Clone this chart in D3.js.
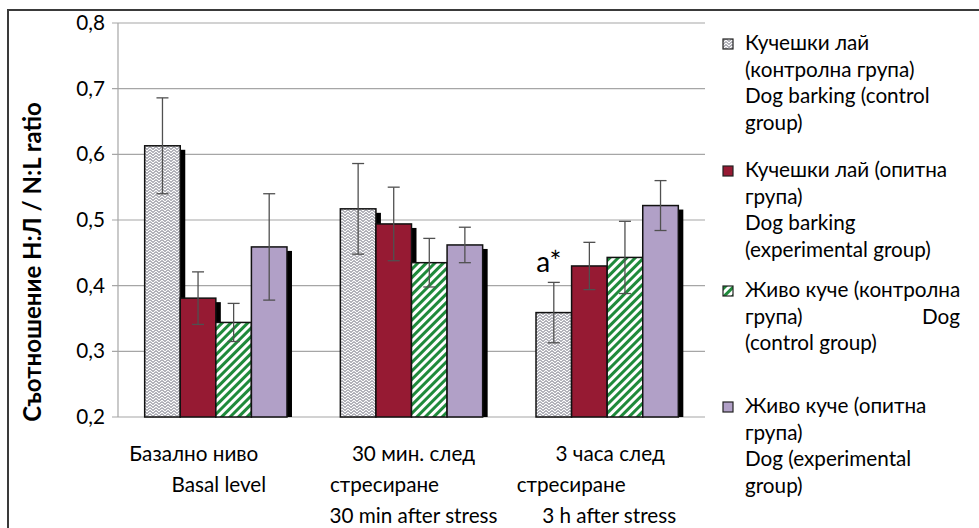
<!DOCTYPE html>
<html>
<head>
<meta charset="utf-8">
<script src="https://cdn.jsdelivr.net/npm/d3@7"></script>
<style>
  body { margin: 0; background: #fff; }
  svg { display: block; font-family: Lato, "Noto Sans", sans-serif; }
</style>
</head>
<body>
<svg id="chart" width="979" height="528"></svg>
<script>
// ---- data ----
const categoryLines = [
  ["Базално ниво", "Basal level"],
  ["30 мин. след", "стресиране", "30 min after stress"],
  ["3 часа след", "стресиране", "3 h after stress"]
];
const seriesKeys = ["barkCtrl", "barkExp", "liveCtrl", "liveExp"];
const legendLines = [
  ["Кучешки лай", "(контролна група)", "Dog barking (control", "group)"],
  ["Кучешки лай (опитна", "група)", "Dog barking", "(experimental group)"],
  ["Живо куче (контролна", ["група)", "Dog"], "(control group)"],
  ["Живо куче (опитна", "група)", "Dog (experimental", "group)"]
];
const barkCtrl = [0.613, 0.517, 0.359];
const barkExp  = [0.381, 0.494, 0.430];
const liveCtrl = [0.344, 0.435, 0.443];
const liveExp  = [0.459, 0.462, 0.522];
const barkCtrlErr = [0.073, 0.069, 0.046];
const barkExpErr  = [0.040, 0.056, 0.036];
const liveCtrlErr = [0.029, 0.037, 0.055];
const liveExpErr  = [0.081, 0.027, 0.038];
const yTicks = [0.2, 0.3, 0.4, 0.5, 0.6, 0.7, 0.8];
const annotation = { category: 2, series: 0, text: "a*" };

const valueTable = { barkCtrl, barkExp, liveCtrl, liveExp };
const errTable = { barkCtrl: barkCtrlErr, barkExp: barkExpErr, liveCtrl: liveCtrlErr, liveExp: liveExpErr };

// ---- layout ----
const svg = d3.select("#chart");
const plot = { left: 118, right: 705, top: 23, bottom: 417 };
const FS = 20.7;

const x0 = d3.scaleBand().domain(d3.range(categoryLines.length)).range([plot.left, plot.right]);
// Excel-like gap width of 150% of one bar
const barW = x0.bandwidth() / 5.5;
const x1 = d3.scaleBand().domain(seriesKeys)
  .range([barW * 0.75, x0.bandwidth() - barW * 0.75]);
const y = d3.scaleLinear().domain([0.2, 0.8]).range([plot.bottom, plot.top]);

// ---- fills ----
const defs = svg.append("defs");
// grey zig-zag weave
const zig = defs.append("pattern").attr("id", "zigzag").attr("patternUnits", "userSpaceOnUse")
  .attr("width", 6).attr("height", 6);
zig.append("rect").attr("width", 6).attr("height", 6).attr("fill", "#b0b0b8");
zig.append("path").attr("d", "M0,1 L3,4 L6,1 M0,-2 L3,1 L6,-2 M0,4 L3,7 L6,4")
  .attr("fill", "none").attr("stroke", "#ffffff").attr("stroke-width", 1.1);
zig.append("path").attr("d", "M0,2.5 L3,5.5 L6,2.5 M0,-0.5 L3,2.5 L6,-0.5")
  .attr("fill", "none").attr("stroke", "#8a8a94").attr("stroke-width", 0.7);

// green / white diagonal stripes
const stripes = defs.append("pattern").attr("id", "stripes").attr("patternUnits", "userSpaceOnUse")
  .attr("width", 6).attr("height", 6).attr("patternTransform", "rotate(45)");
stripes.append("rect").attr("width", 6).attr("height", 6).attr("fill", "#ffffff");
stripes.append("rect").attr("width", 3).attr("height", 6).attr("fill", "#1f8a3b");

const fills = { barkCtrl: "url(#zigzag)", barkExp: "#961a33", liveCtrl: "url(#stripes)", liveExp: "#b1a0c7" };

// ---- outer frame (top and left edges fall inside the view) ----
svg.append("path").attr("d", "M8,528 L8,10 L979,10")
  .attr("fill", "none").attr("stroke", "#3a3a3a").attr("stroke-width", 2);

// ---- grid & axes ----
const grid = svg.append("g");
grid.selectAll("line").data(yTicks).join("line")
  .attr("x1", plot.left - 6).attr("x2", plot.right)
  .attr("y1", d => y(d)).attr("y2", d => y(d))
  .attr("stroke", "#a6a6a6").attr("stroke-width", 1.2);
svg.append("line").attr("x1", plot.left).attr("x2", plot.left)
  .attr("y1", plot.top).attr("y2", plot.bottom).attr("stroke", "#a6a6a6").attr("stroke-width", 1.2);

const yAxis = d3.axisLeft(y).tickValues(yTicks).tickSize(0).tickPadding(13)
  .tickFormat(d => d3.format(".1f")(d).replace(".", ","));
svg.append("g").attr("transform", `translate(${plot.left},0)`).call(yAxis)
  .call(g => g.select(".domain").remove())
  .selectAll("text").attr("font-size", FS).attr("fill", "#000").attr("font-family", "Lato");

svg.append("text")
  .attr("transform", `translate(41,262) rotate(-90)`)
  .attr("text-anchor", "middle").attr("font-size", 24).attr("font-weight", "bold")
  .text("Съотношение Н:Л / N:L ratio");

// ---- bars ----
const cells = [];
categoryLines.forEach((_, ci) => seriesKeys.forEach(k => cells.push({ ci, k, v: valueTable[k][ci], e: errTable[k][ci] })));

const bx = d => x0(d.ci) + x1(d.k);
svg.append("g").selectAll("rect").data(cells).join("rect")
  .attr("x", d => bx(d) + 5).attr("y", d => y(d.v) + 4)
  .attr("width", x1.bandwidth()).attr("height", d => plot.bottom - y(d.v) - 4)
  .attr("fill", "#000");
svg.append("g").selectAll("rect").data(cells).join("rect")
  .attr("x", bx).attr("y", d => y(d.v))
  .attr("width", x1.bandwidth()).attr("height", d => plot.bottom - y(d.v))
  .attr("fill", d => fills[d.k]).attr("stroke", "#111").attr("stroke-width", 1.5);

// ---- error bars ----
const eb = svg.append("g").attr("stroke", "#505050").attr("stroke-width", 1.3);
cells.forEach(d => {
  const cx = bx(d) + x1.bandwidth() / 2;
  eb.append("line").attr("x1", cx).attr("x2", cx).attr("y1", y(d.v + d.e)).attr("y2", y(d.v - d.e));
  [d.v + d.e, d.v - d.e].forEach(v =>
    eb.append("line").attr("x1", cx - 6).attr("x2", cx + 6).attr("y1", y(v)).attr("y2", y(v)));
});

// ---- annotation ----
{
  const d = cells.find(c => c.ci === annotation.category && c.k === seriesKeys[annotation.series]);
  svg.append("text").attr("x", bx(d) + x1.bandwidth() / 2 - 5).attr("y", y(d.v + d.e) - 10)
    .attr("text-anchor", "middle").attr("font-size", 28).text(annotation.text);
}

// ---- category labels ----
const lineDx = [[-22, 3], [2, -27, 2], [3, -36, 2]];
const lineY = [461, 492, 523];
categoryLines.forEach((lines, ci) => {
  const cx = x0(ci) + x0.bandwidth() / 2;
  lines.forEach((t, li) => {
    svg.append("text").attr("x", cx + lineDx[ci][li]).attr("y", lineY[li])
      .attr("text-anchor", "middle").attr("font-size", FS).text(t);
  });
});

// ---- legend ----
const legendTop = [50, 177, 297, 413];
const lineStep = 26.5;
const legend = svg.append("g");
legendLines.forEach((lines, i) => {
  const key = seriesKeys[i];
  legend.append("rect").attr("x", 723).attr("y", legendTop[i] - 11).attr("width", 10).attr("height", 10)
    .attr("fill", fills[key]).attr("stroke", "#222").attr("stroke-width", 1.2);
  lines.forEach((t, li) => {
    const ty = legendTop[i] + li * lineStep;
    if (Array.isArray(t)) {
      legend.append("text").attr("x", 745).attr("y", ty).attr("font-size", FS).text(t[0]);
      legend.append("text").attr("x", 960).attr("y", ty).attr("text-anchor", "end").attr("font-size", FS).text(t[1]);
    } else {
      legend.append("text").attr("x", 745).attr("y", ty).attr("font-size", FS).text(t);
    }
  });
});
</script>
</body>
</html>
